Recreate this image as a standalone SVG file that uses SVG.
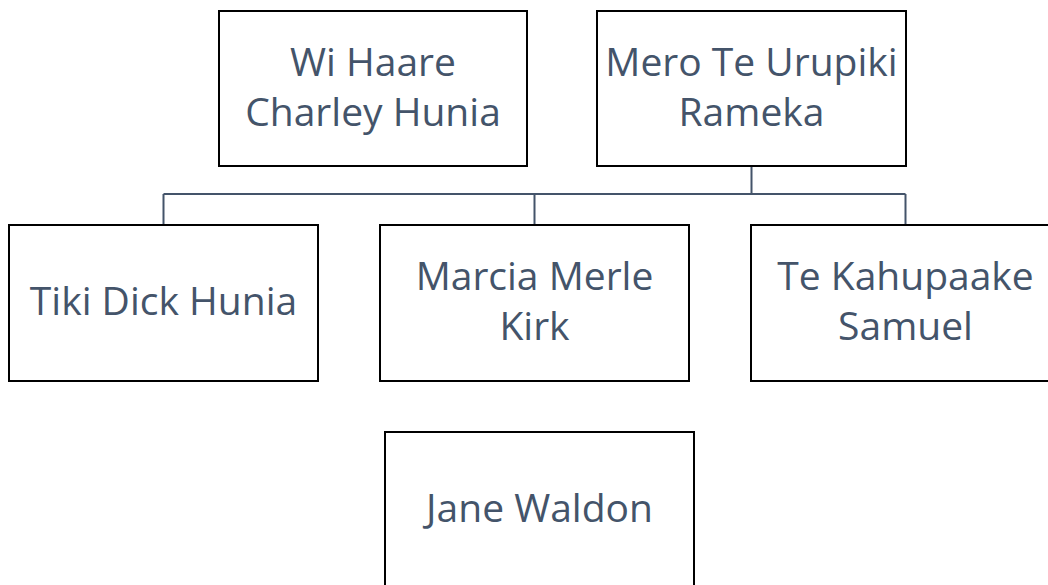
<svg xmlns="http://www.w3.org/2000/svg" width="1048" height="585" viewBox="0 0 1048 585">
<style>
.box{fill:#ffffff;stroke:#000000;stroke-width:2}
.lbl{font-family:"Open Sans","Liberation Sans",sans-serif;font-size:39px;fill:#44546a;text-anchor:middle}
.con{fill:none;stroke:#44546a;stroke-width:2}
</style>
<rect width="1048" height="585" fill="#ffffff"/>
<g id="connectors">
<path class="con" d="M751.5,166 V194 M163.5,194 H905.5 M163.5,194 V225 M534.5,194 V225 M905.5,194 V225"/>
</g>
<g id="n1"><rect class="box" x="219" y="11" width="308" height="155"/><text class="lbl" x="373" y="76">Wi Haare</text><text class="lbl" x="373" y="126">Charley Hunia</text></g>
<g id="n2"><rect class="box" x="597" y="11" width="309" height="155"/><text class="lbl" x="751.5" y="76">Mero Te Urupiki</text><text class="lbl" x="751.5" y="126">Rameka</text></g>
<g id="n3"><rect class="box" x="9" y="225" width="309" height="156"/><text class="lbl" x="163.5" y="315">Tiki Dick Hunia</text></g>
<g id="n4"><rect class="box" x="380" y="225" width="309" height="156"/><text class="lbl" x="534.5" y="290">Marcia Merle</text><text class="lbl" x="534.5" y="340">Kirk</text></g>
<g id="n5"><rect class="box" x="751" y="225" width="309" height="156"/><text class="lbl" x="905.5" y="290">Te Kahupaake</text><text class="lbl" x="905.5" y="340">Samuel</text></g>
<g id="n6"><rect class="box" x="385" y="432" width="309" height="156"/><text class="lbl" x="539.5" y="522">Jane Waldon</text></g>
</svg>
